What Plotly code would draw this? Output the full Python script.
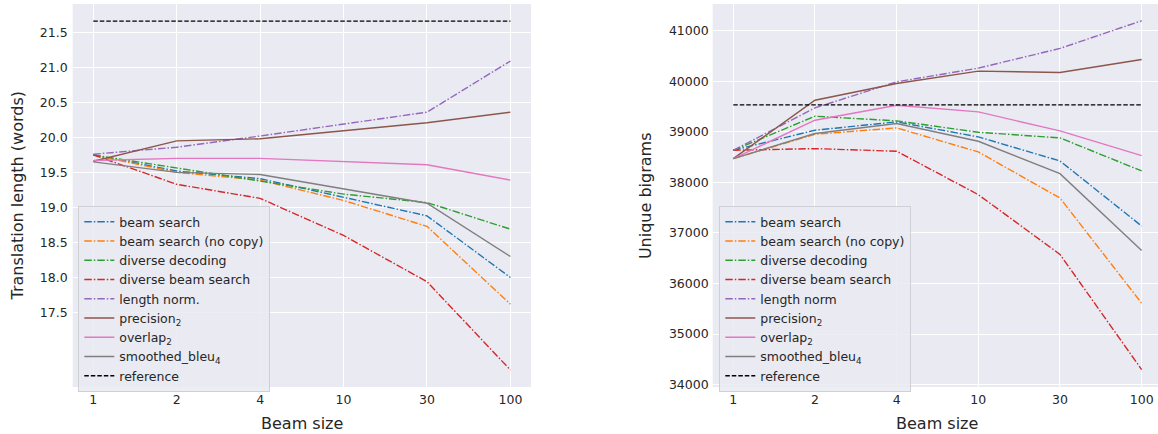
import plotly.graph_objects as go

beam_sizes = ["1", "2", "4", "10", "30", "100"]

# Left panel: translation length (words)
len_beam = [19.75, 19.52, 19.41, 19.15, 18.88, 18.00]
len_beam_nocopy = [19.75, 19.50, 19.39, 19.10, 18.73, 17.62]
len_diverse_dec = [19.75, 19.56, 19.38, 19.19, 19.07, 18.69]
len_diverse_beam = [19.75, 19.33, 19.13, 18.60, 17.94, 16.68]
len_length_norm = [19.76, 19.86, 20.02, 20.19, 20.36, 21.09]
len_precision2 = [19.66, 19.95, 19.98, 20.10, 20.21, 20.36]
len_overlap2 = [19.67, 19.70, 19.70, 19.66, 19.61, 19.39]
len_smoothed_bleu4 = [19.65, 19.50, 19.47, 19.27, 19.06, 18.30]
len_reference = [21.66] * 6

# Right panel: unique bigrams
big_beam = [38635, 39032, 39197, 38900, 38424, 37136]
big_beam_nocopy = [38470, 38952, 39078, 38602, 37691, 35610]
big_diverse_dec = [38635, 39309, 39217, 38992, 38880, 38226]
big_diverse_beam = [38635, 38668, 38616, 37757, 36575, 34296]
big_length_norm = [38635, 39474, 39989, 40260, 40650, 41198]
big_precision2 = [38470, 39626, 39956, 40201, 40174, 40432]
big_overlap2 = [38470, 39230, 39527, 39395, 39018, 38530]
big_smoothed_bleu4 = [38470, 38966, 39164, 38814, 38173, 36654]
big_reference = [39534] * 6

left_yticks = [17.5, 18.0, 18.5, 19.0, 19.5, 20.0, 20.5, 21.0, 21.5]
right_yticks = [34000, 35000, 36000, 37000, 38000, 39000, 40000, 41000]

names_left = ["beam search", "beam search (no copy)", "diverse decoding",
              "diverse beam search", "length norm.", "precision<sub>2</sub>",
              "overlap<sub>2</sub>", "smoothed_bleu<sub>4</sub>", "reference"]
names_right = ["beam search", "beam search (no copy)", "diverse decoding",
               "diverse beam search", "length norm", "precision<sub>2</sub>",
               "overlap<sub>2</sub>", "smoothed_bleu<sub>4</sub>", "reference"]

colors = ["#1f77b4", "#ff7f0e", "#2ca02c", "#d62728", "#9467bd",
          "#8c564b", "#e377c2", "#7f7f7f", "#000000"]
DASHDOT = "7.5px,2px,1.5px,2px"
dashes = [DASHDOT] * 5 + ["solid"] * 3 + ["4.5px,2px"]

left_series = [len_beam, len_beam_nocopy, len_diverse_dec, len_diverse_beam,
               len_length_norm, len_precision2, len_overlap2, len_smoothed_bleu4,
               len_reference]
right_series = [big_beam, big_beam_nocopy, big_diverse_dec, big_diverse_beam,
                big_length_norm, big_precision2, big_overlap2, big_smoothed_bleu4,
                big_reference]

FONT = "DejaVu Sans"
TXT = "#262626"
fig = go.Figure()

for name, ys, c, d in zip(names_left, left_series, colors, dashes):
    fig.add_trace(go.Scatter(x=beam_sizes, y=ys, name=name, mode="lines",
                             line=dict(color=c, dash=d, width=1.4),
                             xaxis="x", yaxis="y", legend="legend"))
for name, ys, c, d in zip(names_right, right_series, colors, dashes):
    fig.add_trace(go.Scatter(x=beam_sizes, y=ys, name=name, mode="lines",
                             line=dict(color=c, dash=d, width=1.4),
                             xaxis="x2", yaxis="y2", legend="legend2"))

W, H = 1158, 434
TOP, BOT = 4, 386.7
PH = BOT - TOP
axis_common = dict(showgrid=True, gridcolor="white", gridwidth=1, zeroline=False,
                   showline=False, ticks="", tickfont=dict(family=FONT, size=12.5, color=TXT))

legend_common = dict(bgcolor="rgba(234,234,242,0.85)", bordercolor="#cfcfd6", borderwidth=1,
                     font=dict(family=FONT, size=12.5, color=TXT),
                     xanchor="left", yanchor="top", tracegroupgap=0, itemwidth=30)

title_font = dict(family=FONT, size=16, color=TXT)

fig.update_layout(
    width=W, height=H,
    margin=dict(l=0, r=0, t=TOP, b=H - BOT),
    paper_bgcolor="white", plot_bgcolor="#EAEAF2",
    font=dict(family=FONT, color=TXT),
    xaxis=dict(domain=[72.7 / W, 531 / W], type="category", range=[-0.247, 5.247],
               anchor="y", ticklabelstandoff=3, **axis_common),
    yaxis=dict(domain=[0, 1], range=[16.437, 21.904], tickvals=left_yticks,
               ticktext=[f"{v:.1f}" for v in left_yticks], anchor="x",
               ticklabelstandoff=4, **axis_common),
    xaxis2=dict(domain=[712.7 / W, 1.0], type="category", range=[-0.252, 5.2],
                anchor="y2", ticklabelstandoff=3, **axis_common),
    yaxis2=dict(domain=[0, 1], range=[33952, 41529], tickvals=right_yticks,
                ticktext=[str(v) for v in right_yticks], anchor="x2",
                ticklabelstandoff=3, **axis_common),
    legend=dict(x=78.3 / W, y=1 - (206 - TOP) / PH, **legend_common),
    legend2=dict(x=719.3 / W, y=1 - (206 - TOP) / PH, **legend_common),
    annotations=[
        dict(text="Beam size", xref="paper", yref="paper", x=(72.7 + 531) / 2 / W,
             y=-(423.5 - BOT) / PH, xanchor="center", yanchor="middle", showarrow=False,
             font=title_font),
        dict(text="Beam size", xref="paper", yref="paper", x=(712.7 + 1162) / 2 / W,
             y=-(423.5 - BOT) / PH, xanchor="center", yanchor="middle", showarrow=False,
             font=title_font),
        dict(text="Translation length (words)", xref="paper", yref="paper", x=17 / W,
             y=0.5, xanchor="center", yanchor="middle", textangle=-90, showarrow=False,
             font=title_font),
        dict(text="Unique bigrams", xref="paper", yref="paper", x=645.6 / W,
             y=0.5, xanchor="center", yanchor="middle", textangle=-90, showarrow=False,
             font=title_font),
    ],
)

fig.write_html("out.html", config={"displayModeBar": False},
               post_script="document.body.style.margin='0px';document.body.style.overflow='hidden';")
